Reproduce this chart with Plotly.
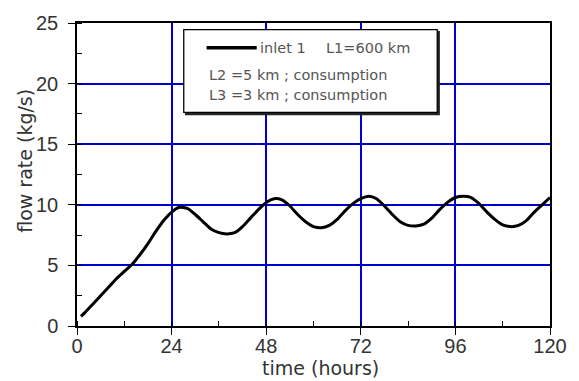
import plotly.graph_objects as go

# Data
time_h = [1, 2, 4, 6, 8, 10, 12, 14, 16, 18, 20, 22, 24, 26, 28, 30, 32, 34, 36, 38,
          40, 42, 44, 46, 48, 50, 52, 54, 56, 58, 60, 62, 64, 66, 68, 70, 72, 74, 76,
          78, 80, 82, 84, 86, 88, 90, 92, 94, 96, 98, 100, 102, 104, 106, 108, 110,
          112, 114, 116, 118, 120]
flow_rate = [0.8, 1.1, 1.8, 2.5, 3.2, 3.9, 4.5, 5.1, 5.9, 6.8, 7.8, 8.7, 9.4, 9.8, 9.7,
             9.2, 8.6, 8.0, 7.7, 7.6, 7.7, 8.2, 8.9, 9.6, 10.2, 10.5, 10.4, 9.9, 9.2,
             8.6, 8.2, 8.1, 8.3, 8.8, 9.5, 10.1, 10.5, 10.7, 10.5, 9.9, 9.2, 8.6, 8.3,
             8.25, 8.4, 8.9, 9.6, 10.2, 10.6, 10.7, 10.6, 10.1, 9.4, 8.8, 8.35, 8.2,
             8.3, 8.7, 9.4, 10.0, 10.6]
x_ticks = [0, 24, 48, 72, 96, 120]
y_ticks = [0, 5, 10, 15, 20, 25]
x_title = "time (hours)"
y_title = "flow rate (kg/s)"
legend_texts = ["inlet 1", "L1=600 km", "L2 =5 km ; consumption", "L3 =3 km ; consumption"]

fig = go.Figure()
fig.add_trace(go.Scatter(x=time_h, y=flow_rate, mode="lines",
                         line=dict(color="black", width=3, shape="spline", smoothing=0.6),
                         showlegend=False))

axis_common = dict(showline=True, linecolor="black", linewidth=1.5, mirror=True,
                   showgrid=True, gridcolor="#0000CC", gridwidth=1.5,
                   ticks="outside", ticklen=7, tickcolor="black", tickwidth=1.2,
                   zeroline=False,
                   tickfont=dict(family="Liberation Sans, Arial", size=20, color="#333"))

fig.update_xaxes(range=[0, 120], tickvals=x_ticks, **axis_common, ticklabelstandoff=-6,
                 minor=dict(ticks="inside", ticklen=5, dtick=12, tick0=0,
                            tickcolor="black", showgrid=False))
fig.update_yaxes(range=[0, 25], tickvals=y_ticks, **axis_common, ticklabelstandoff=6,
                 minor=dict(ticks="inside", ticklen=5, dtick=2.5, tick0=0,
                            tickcolor="black", showgrid=False))

# Axis titles placed as annotations
fig.add_annotation(text=x_title, xref="paper", yref="paper", x=0.515, y=-0.138,
                   xanchor="center", yanchor="middle", showarrow=False,
                   font=dict(family="DejaVu Sans", size=19, color="#333"))
fig.add_annotation(text=y_title, xref="paper", yref="paper", x=-0.110, y=0.545,
                   xanchor="center", yanchor="middle", showarrow=False, textangle=-90,
                   font=dict(family="DejaVu Sans", size=19, color="#333"))

# Legend box (paper coordinates)
bx0, bx1, by0, by1 = 0.2257, 0.7616, 0.705, 0.978
fig.add_shape(type="rect", xref="paper", yref="paper", x0=bx0 + 0.004, x1=bx1 + 0.004,
              y0=by0 - 0.007, y1=by1 - 0.007, line=dict(color="#222", width=1.5),
              fillcolor="#222", layer="above")
fig.add_shape(type="rect", xref="paper", yref="paper", x0=bx0, x1=bx1, y0=by0, y1=by1,
              line=dict(color="black", width=1.3), fillcolor="white", layer="above")
fig.add_shape(type="line", xref="paper", yref="paper", x0=0.274, x1=0.380,
              y0=0.918, y1=0.918, line=dict(color="black", width=3.5), layer="above")
legend_x = [0.382, 0.523, 0.274, 0.274]
legend_y = [0.918, 0.918, 0.827, 0.763]
for txt, lx, ly in zip(legend_texts, legend_x, legend_y):
    fig.add_annotation(text=txt, xref="paper", yref="paper", x=lx, y=ly,
                       xanchor="left", yanchor="middle", showarrow=False,
                       font=dict(family="DejaVu Sans", size=14.5, color="#555"))

fig.update_layout(width=579, height=381, margin=dict(l=77, r=28, t=21, b=55),
                  paper_bgcolor="white", plot_bgcolor="white")
fig.write_html("out.html")
